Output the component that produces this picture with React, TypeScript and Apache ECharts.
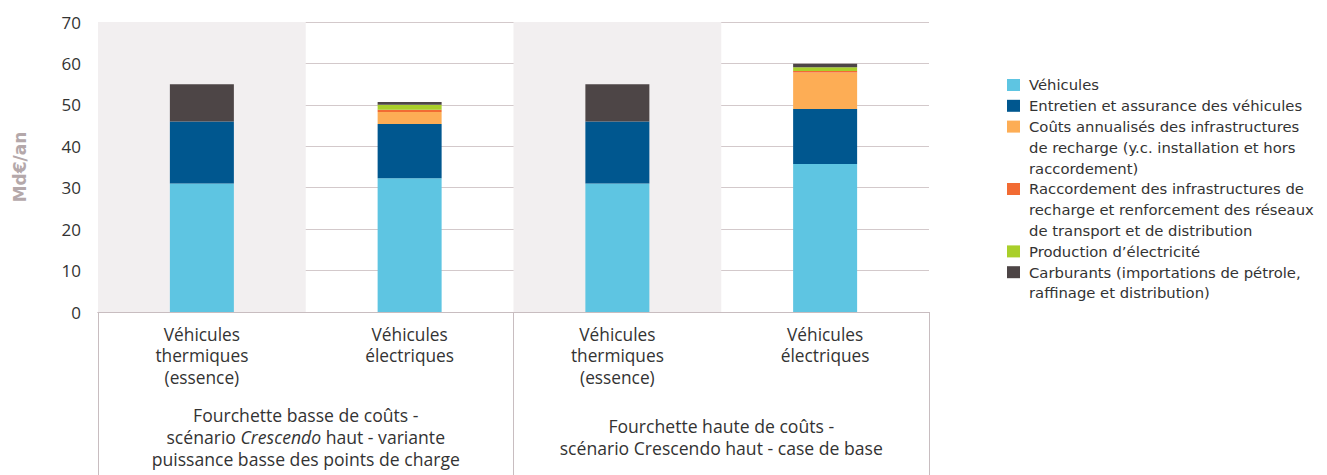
import React, { useEffect, useRef } from "react";
import * as echarts from "echarts";

const categories = [
  "Véhicules\nthermiques\n(essence)",
  "Véhicules\nélectriques",
  "Véhicules\nthermiques\n(essence)",
  "Véhicules\nélectriques",
];
const groups = [
  "Fourchette basse de coûts -\nscénario {i|Crescendo} haut - variante\npuissance basse des points de charge",
  "Fourchette haute de coûts -\nscénario Crescendo haut - case de base",
];
const seriesNames = [
  "Véhicules",
  "Entretien et assurance des véhicules",
  "Coûts annualisés des infrastructures de recharge (y.c. installation et hors raccordement)",
  "Raccordement des infrastructures de recharge et renforcement des réseaux de transport et de distribution",
  "Production d’électricité",
  "Carburants (importations de pétrole, raffinage et distribution)",
];
const legendLabels = [
  "Véhicules",
  "Entretien et assurance des véhicules",
  "Coûts annualisés des infrastructures\nde recharge (y.c. installation et hors\nraccordement)",
  "Raccordement des infrastructures de\nrecharge et renforcement des réseaux\nde transport et de distribution",
  "Production d’électricité",
  "Carburants (importations de pétrole,\nraffinage et distribution)",
];
const vehicules = [31, 32.3, 31, 35.7];
const entretien = [15, 13.1, 15, 13.3];
const infrastructures = [0, 2.9, 0, 8.8];
const raccordement = [0, 0.5, 0, 0.4];
const production = [0, 1.2, 0, 0.9];
const carburants = [9, 0.7, 9, 0.8];
const seriesValues = [vehicules, entretien, infrastructures, raccordement, production, carburants];
const colors = ["#5EC5E2", "#00578F", "#FDAD55", "#F26B33", "#A9CF2A", "#4D4546"];
const yTicks = { min: 0, max: 70, interval: 10 };

export default function App() {
  const ref = useRef<HTMLDivElement>(null);
  useEffect(() => {
    if (!ref.current) return;
    const chart = echarts.init(ref.current, undefined, { renderer: "svg" });
    const axisFont = "'Open Sans', Lato, sans-serif";
    const legendFont = "'DejaVu Sans', Verdana, sans-serif";
    const lineH = 20.8;
    const legendTop = 85;
    const legendEls: any[] = [];
    let line = 0;
    legendLabels.forEach((lab, i) => {
      const yc = legendTop + line * lineH;
      legendEls.push({
        type: "rect",
        shape: { x: 1007, y: yc - 6, width: 13, height: 12 },
        style: { fill: colors[i] },
      });
      legendEls.push({
        type: "text",
        x: 1029,
        y: yc - lineH / 2,
        style: {
          text: lab,
          fontFamily: legendFont,
          fontSize: 14.8,
          lineHeight: lineH,
          fill: "#333333",
          verticalAlign: "top",
          align: "left",
        },
      });
      line += lab.split("\n").length;
    });

    chart.setOption({
      animation: false,
      backgroundColor: "#ffffff",
      grid: { left: 98, right: 398, top: 22, bottom: 163, containLabel: false },
      xAxis: [
        {
          type: "category",
          data: categories,
          position: "bottom",
          axisLine: { show: true, lineStyle: { color: "#C8BDC0", width: 1 } },
          axisTick: { show: false },
          axisLabel: {
            interval: 0,
            margin: 12,
            fontFamily: axisFont,
            fontSize: 17.3,
            lineHeight: 21.2,
            color: "#333333",
          },
          splitArea: {
            show: true,
            interval: 0,
            areaStyle: { color: ["#F2EFF0", "rgba(255,255,255,0)"] },
          },
          splitLine: { show: false },
        },
        {
          type: "category",
          data: groups,
          position: "bottom",
          offset: 0,
          axisLine: { show: true, lineStyle: { color: "#C8BDC0", width: 1 } },
          axisTick: {
            show: true,
            interval: 0,
            alignWithLabel: false,
            length: 165,
            lineStyle: { color: "#C8BDC0", width: 1 },
          },
          axisLabel: {
            interval: 0,
            margin: 125,
            verticalAlign: "middle",
            fontFamily: axisFont,
            fontSize: 17.6,
            lineHeight: 21.6,
            color: "#333333",
            rich: {
              i: {
                fontStyle: "italic",
                fontFamily: axisFont,
                fontSize: 17.6,
                lineHeight: 21.6,
                color: "#333333",
              },
            },
          },
          splitLine: { show: false },
        },
      ],
      yAxis: {
        type: "value",
        min: yTicks.min,
        max: yTicks.max,
        interval: yTicks.interval,
        name: "Md€/an",
        nameLocation: "middle",
        nameGap: 70,
        nameTextStyle: {
          fontFamily: legendFont,
          fontWeight: "bold",
          fontSize: 17,
          color: "#B4A8AA",
        },
        axisLine: { show: false },
        axisTick: { show: false },
        axisLabel: {
          margin: 17,
          fontFamily: axisFont,
          fontSize: 17,
          color: "#333333",
        },
        splitLine: { show: true, lineStyle: { color: "#D3C9CB", width: 1 } },
      },
      series: seriesNames.map((name, i) => ({
        name,
        type: "bar",
        stack: "total",
        barWidth: 64,
        xAxisIndex: 0,
        data: seriesValues[i],
        itemStyle: { color: colors[i] },
      })),
      graphic: legendEls,
    });
    return () => chart.dispose();
  }, []);
  return (
    <div
      ref={ref}
      style={{ position: "fixed", left: 0, top: 0, width: 1327, height: 475, background: "#fff" }}
    />
  );
}
